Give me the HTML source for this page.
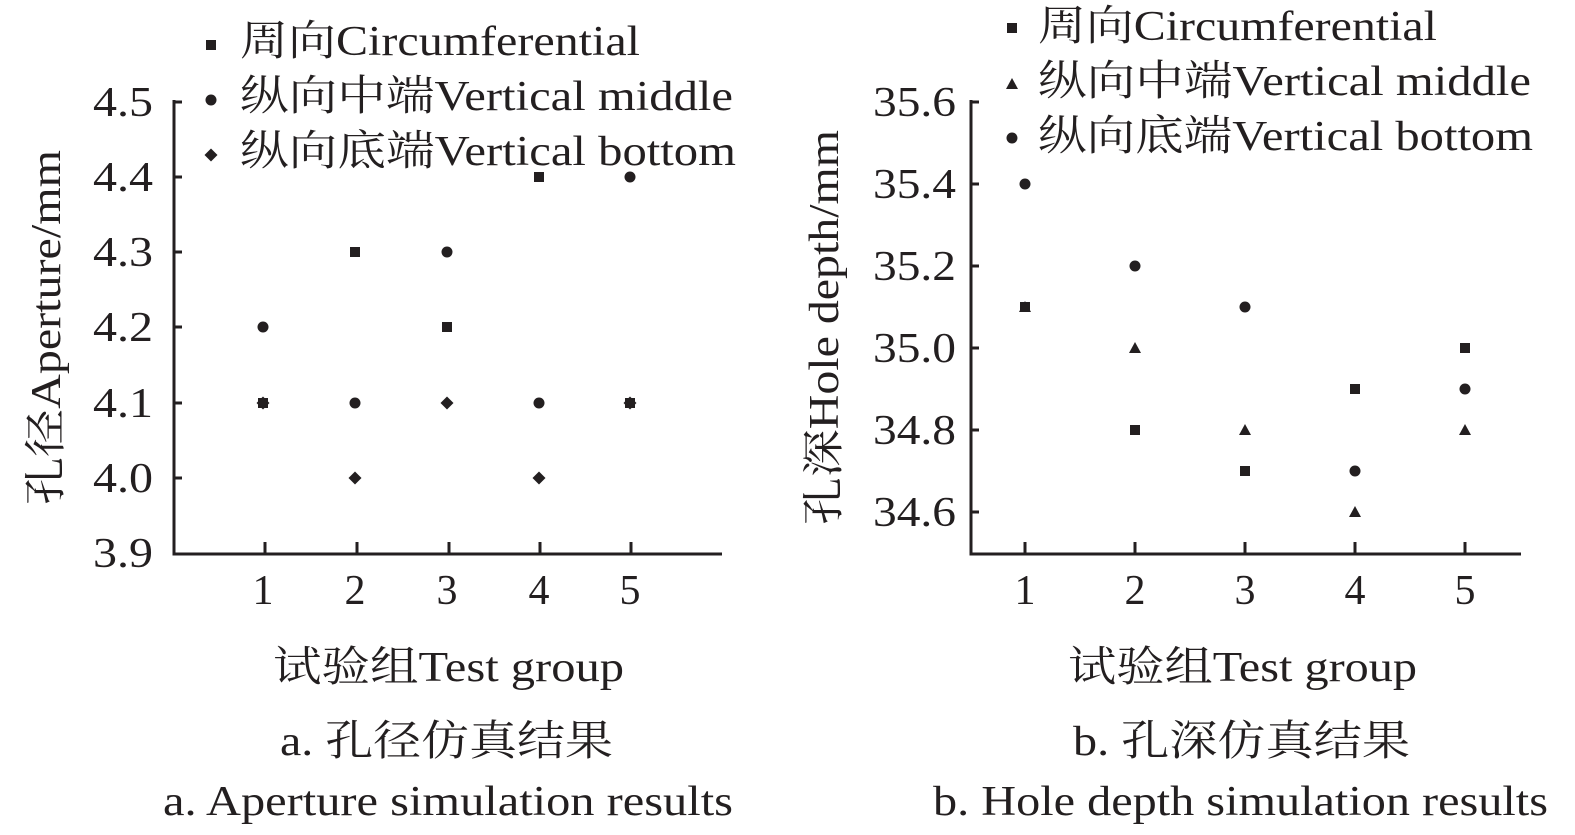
<!DOCTYPE html>
<html><head><meta charset="utf-8"><style>
html,body{margin:0;padding:0;background:#fff;}
svg{display:block;}
text{font-family:"Liberation Serif","Noto Serif CJK SC",serif;fill:#231f20;}
</style></head><body>
<svg width="1575" height="835" viewBox="0 0 1575 835" xmlns="http://www.w3.org/2000/svg">
<defs>
<rect id="sq" x="-5" y="-5" width="10" height="10" fill="#231f20"/>
<circle id="ci" r="5.5" fill="#231f20"/>
<polygon id="di" points="0,-6.5 6.5,0 0,6.5 -6.5,0" fill="#231f20"/>
<polygon id="tr" points="0,-6 6,5 -6,5" fill="#231f20"/>
</defs>
<g stroke="#231f20" stroke-width="3" fill="none">
<polyline points="174,100 174,554 722,554"/>
<line x1="174" y1="102" x2="182" y2="102"/><line x1="174" y1="177" x2="182" y2="177"/>
<line x1="174" y1="252" x2="182" y2="252"/><line x1="174" y1="327" x2="182" y2="327"/>
<line x1="174" y1="403" x2="182" y2="403"/><line x1="174" y1="478" x2="182" y2="478"/>
<line x1="265" y1="554" x2="265" y2="542"/><line x1="357" y1="554" x2="357" y2="542"/>
<line x1="449" y1="554" x2="449" y2="542"/><line x1="540" y1="554" x2="540" y2="542"/>
<line x1="631" y1="554" x2="631" y2="542"/>
<polyline points="971,100 971,554 1521,554"/>
<line x1="971" y1="102" x2="979" y2="102"/><line x1="971" y1="184" x2="979" y2="184"/>
<line x1="971" y1="266" x2="979" y2="266"/><line x1="971" y1="348" x2="979" y2="348"/>
<line x1="971" y1="430" x2="979" y2="430"/><line x1="971" y1="512" x2="979" y2="512"/>
<line x1="1025" y1="554" x2="1025" y2="542"/><line x1="1135" y1="554" x2="1135" y2="542"/>
<line x1="1245" y1="554" x2="1245" y2="542"/><line x1="1355" y1="554" x2="1355" y2="542"/>
<line x1="1465" y1="554" x2="1465" y2="542"/>
</g>
<g font-size="42" lengthAdjust="spacingAndGlyphs">
<text x="93" y="116" textLength="60" lengthAdjust="spacingAndGlyphs">4.5</text>
<text x="93" y="191" textLength="60" lengthAdjust="spacingAndGlyphs">4.4</text>
<text x="93" y="266" textLength="60" lengthAdjust="spacingAndGlyphs">4.3</text>
<text x="93" y="341" textLength="60" lengthAdjust="spacingAndGlyphs">4.2</text>
<text x="93" y="417" textLength="60" lengthAdjust="spacingAndGlyphs">4.1</text>
<text x="93" y="492" textLength="60" lengthAdjust="spacingAndGlyphs">4.0</text>
<text x="93" y="567" textLength="60" lengthAdjust="spacingAndGlyphs">3.9</text>
<text x="873" y="116" textLength="83" lengthAdjust="spacingAndGlyphs">35.6</text>
<text x="873" y="198" textLength="83" lengthAdjust="spacingAndGlyphs">35.4</text>
<text x="873" y="280" textLength="83" lengthAdjust="spacingAndGlyphs">35.2</text>
<text x="873" y="362" textLength="83" lengthAdjust="spacingAndGlyphs">35.0</text>
<text x="873" y="444" textLength="83" lengthAdjust="spacingAndGlyphs">34.8</text>
<text x="873" y="526" textLength="83" lengthAdjust="spacingAndGlyphs">34.6</text>
</g>
<g font-size="42" text-anchor="middle">
<text x="263" y="604">1</text><text x="355" y="604">2</text><text x="447" y="604">3</text><text x="539" y="604">4</text><text x="630" y="604">5</text>
<text x="1025" y="604">1</text><text x="1135" y="604">2</text><text x="1245" y="604">3</text><text x="1355" y="604">4</text><text x="1465" y="604">5</text>
</g>
<g font-size="42">
<text x="273" y="681" textLength="351" lengthAdjust="spacingAndGlyphs">试验组Test group</text>
<text x="1068" y="681" textLength="349" lengthAdjust="spacingAndGlyphs">试验组Test group</text>
<text x="280" y="755" textLength="333" lengthAdjust="spacingAndGlyphs">a. 孔径仿真结果</text>
<text x="1073" y="755" textLength="337" lengthAdjust="spacingAndGlyphs">b. 孔深仿真结果</text>
<text x="163" y="815" textLength="570" lengthAdjust="spacingAndGlyphs">a. Aperture simulation results</text>
<text x="933" y="815" textLength="615" lengthAdjust="spacingAndGlyphs">b. Hole depth simulation results</text>
<text transform="translate(60,505) rotate(-90)" textLength="355" lengthAdjust="spacingAndGlyphs">孔径Aperture/mm</text>
<text transform="translate(838,525) rotate(-90)" textLength="395" lengthAdjust="spacingAndGlyphs">孔深Hole depth/mm</text>
</g>
<g font-size="42">
<use href="#sq" x="211" y="45"/><text x="240" y="55" textLength="400" lengthAdjust="spacingAndGlyphs">周向Circumferential</text>
<use href="#ci" x="211" y="100"/><text x="240" y="110" textLength="493" lengthAdjust="spacingAndGlyphs">纵向中端Vertical middle</text>
<use href="#di" x="211" y="155"/><text x="240" y="165" textLength="496" lengthAdjust="spacingAndGlyphs">纵向底端Vertical bottom</text>
<use href="#sq" x="1012" y="28"/><text x="1038" y="40" textLength="399" lengthAdjust="spacingAndGlyphs">周向Circumferential</text>
<use href="#tr" x="1012" y="84"/><text x="1038" y="95" textLength="493" lengthAdjust="spacingAndGlyphs">纵向中端Vertical middle</text>
<use href="#ci" x="1012" y="138"/><text x="1038" y="150" textLength="495" lengthAdjust="spacingAndGlyphs">纵向底端Vertical bottom</text>
</g>
<use href="#sq" x="263" y="403"/><use href="#ci" x="263" y="327"/><use href="#di" x="263" y="403"/>
<use href="#sq" x="355" y="252"/><use href="#ci" x="355" y="403"/><use href="#di" x="355" y="478"/>
<use href="#sq" x="447" y="327"/><use href="#ci" x="447" y="252"/><use href="#di" x="447" y="403"/>
<use href="#sq" x="539" y="177"/><use href="#ci" x="539" y="403"/><use href="#di" x="539" y="478"/>
<use href="#sq" x="630" y="403"/><use href="#ci" x="630" y="177"/><use href="#di" x="630" y="403"/>
<use href="#sq" x="1025" y="307"/><use href="#tr" x="1025" y="307"/><use href="#ci" x="1025" y="184"/>
<use href="#sq" x="1135" y="430"/><use href="#tr" x="1135" y="348"/><use href="#ci" x="1135" y="266"/>
<use href="#sq" x="1245" y="471"/><use href="#tr" x="1245" y="430"/><use href="#ci" x="1245" y="307"/>
<use href="#sq" x="1355" y="389"/><use href="#tr" x="1355" y="512"/><use href="#ci" x="1355" y="471"/>
<use href="#sq" x="1465" y="348"/><use href="#tr" x="1465" y="430"/><use href="#ci" x="1465" y="389"/>
</svg>
</body></html>
